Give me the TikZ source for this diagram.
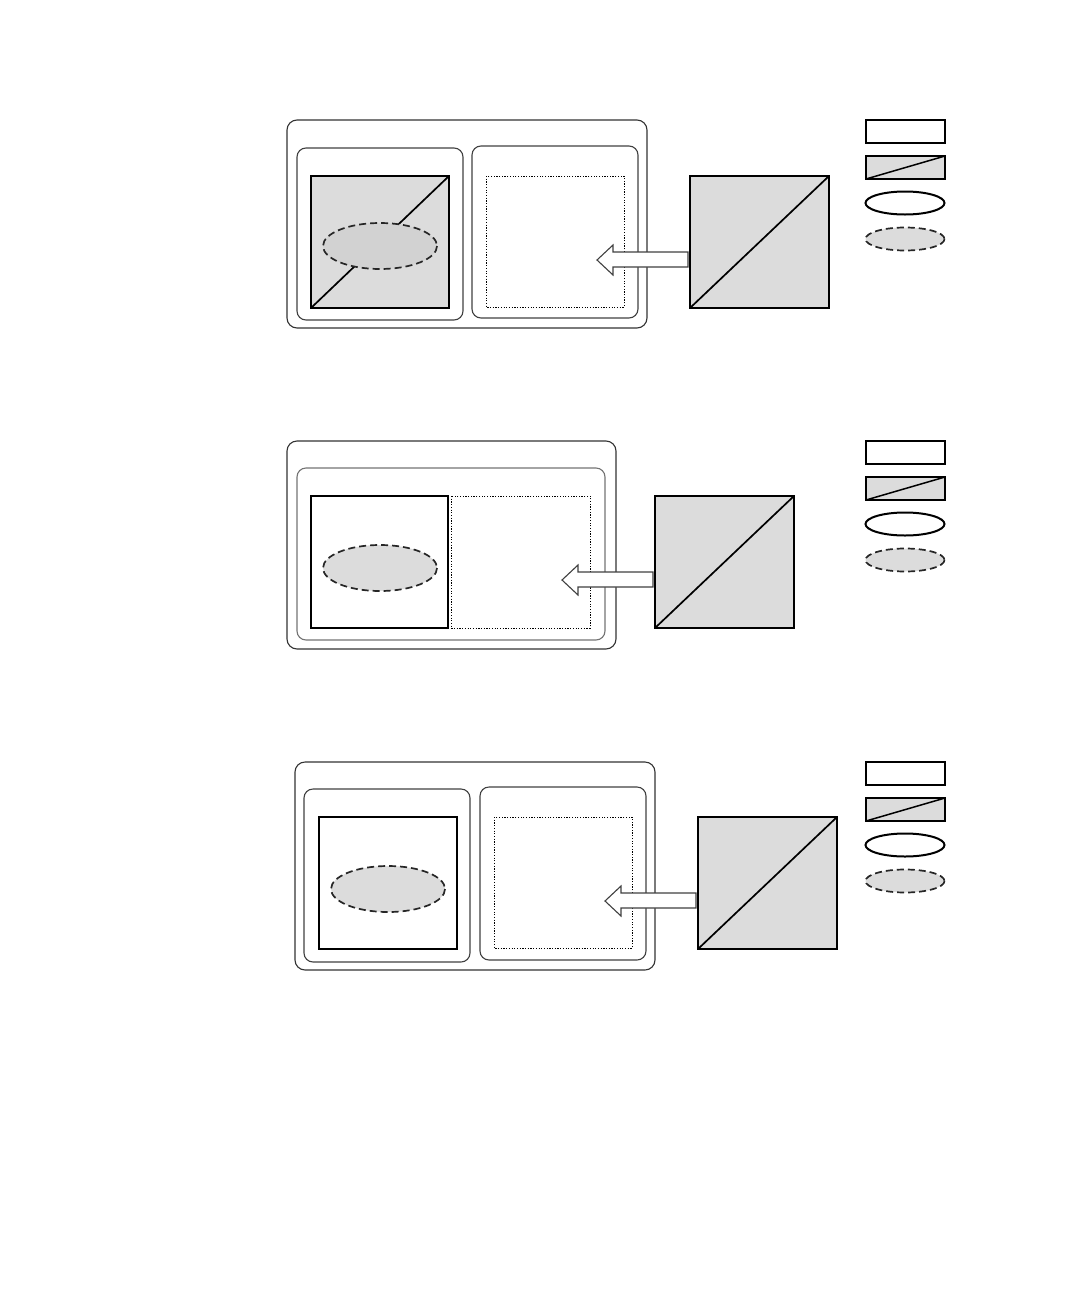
\documentclass[tikz,border=0pt]{standalone}
\usepackage{tikz}

\definecolor{lightgray}{HTML}{DCDCDC}
\definecolor{ellgray}{HTML}{D2D2D2}

\begin{document}
\begin{tikzpicture}[x=1pt,y=-1pt,
	frame/.style={draw=black!80,line width=1.1pt,rounded corners=10pt},
	innerframe/.style={draw=black!75,line width=1.1pt,rounded corners=9pt},
	solidsq/.style={draw=black,line width=2pt},
	graysq/.style={draw=black,line width=2pt,fill=lightgray},
	slot/.style={draw=black,line width=0.8pt,dash pattern=on 1.2pt off 1.5pt},
	region/.style={draw=black!85,line width=1.7pt,dash pattern=on 7pt off 4pt,fill=lightgray},
	plainell/.style={draw=black,line width=2pt,fill=white},
	blockarrow/.style={draw=black!75,line width=1.1pt,fill=white}]
	\useasboundingbox (0,0) rectangle (1080,1296);

	% first row
	\draw[frame] (287,120) rectangle (647,328);
	\draw[innerframe] (297,148) rectangle (463,320);
	\draw[innerframe] (472,146) rectangle (638,318);
	\draw[graysq] (311,176) rectangle (449,308);
	\draw[line width=1.7pt] (311,308) -- (449,176);
	\draw[region,fill=ellgray] (380,246) ellipse (57 and 23);
	\draw[slot] (486,176) rectangle (624,307);
	\draw[blockarrow] (597,260) -- (613,245) -- (613,252) -- (688,252)
		-- (688,267) -- (613,267) -- (613,275) -- cycle;
	\draw[graysq] (690,176) rectangle (829,308);
	\draw[line width=1.7pt] (690,308) -- (829,176);
	\draw[solidsq] (866,120) rectangle (945,143);
	\draw[graysq] (866,156) rectangle (945,179);
	\draw[line width=1.5pt] (866,179) -- (945,156);
	\draw[plainell] (905,203) ellipse (39.5 and 11.5);
	\draw[region] (905,239) ellipse (39.5 and 11.5);

	% second row
	\draw[frame] (287,441) rectangle (616,649);
	\draw[innerframe,draw=black!55] (297,468) rectangle (605,640);
	\draw[solidsq,fill=white] (311,496) rectangle (448,628);
	\draw[region] (380,568) ellipse (57 and 23);
	\draw[slot] (451,496) rectangle (590,628);
	\draw[blockarrow] (562,580) -- (578,565) -- (578,572) -- (653,572)
		-- (653,587) -- (578,587) -- (578,595) -- cycle;
	\draw[graysq] (655,496) rectangle (794,628);
	\draw[line width=1.7pt] (655,628) -- (794,496);
	\draw[solidsq] (866,441) rectangle (945,464);
	\draw[graysq] (866,477) rectangle (945,500);
	\draw[line width=1.5pt] (866,500) -- (945,477);
	\draw[plainell] (905,524) ellipse (39.5 and 11.5);
	\draw[region] (905,560) ellipse (39.5 and 11.5);

	% third row
	\draw[frame] (295,762) rectangle (655,970);
	\draw[innerframe] (304,789) rectangle (470,962);
	\draw[innerframe] (480,787) rectangle (646,960);
	\draw[solidsq,fill=white] (319,817) rectangle (457,949);
	\draw[region] (388,889) ellipse (57 and 23);
	\draw[slot] (494,817) rectangle (632,948);
	\draw[blockarrow] (605,901) -- (621,886) -- (621,893) -- (696,893)
		-- (696,908) -- (621,908) -- (621,916) -- cycle;
	\draw[graysq] (698,817) rectangle (837,949);
	\draw[line width=1.7pt] (698,949) -- (837,817);
	\draw[solidsq] (866,762) rectangle (945,785);
	\draw[graysq] (866,798) rectangle (945,821);
	\draw[line width=1.5pt] (866,821) -- (945,798);
	\draw[plainell] (905,845) ellipse (39.5 and 11.5);
	\draw[region] (905,881) ellipse (39.5 and 11.5);
\end{tikzpicture}
\end{document}
